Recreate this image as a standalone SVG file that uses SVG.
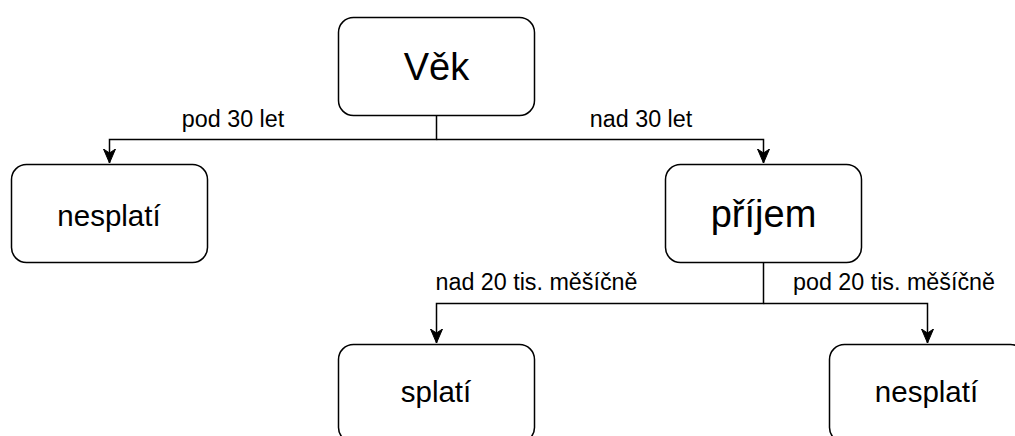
<svg xmlns="http://www.w3.org/2000/svg" width="1015" height="436" viewBox="0 0 1015 436">
  <style>
    .box { fill: #ffffff; stroke: #000000; stroke-width: 1.5; }
    .big { font-family: "Liberation Sans", Arial, sans-serif; font-size: 38px; fill: #000; text-anchor: middle; }
    .mid { font-family: "Liberation Sans", Arial, sans-serif; font-size: 29.5px; fill: #000; text-anchor: middle; }
    .lbl { font-family: "Liberation Sans", Arial, sans-serif; font-size: 23.3px; fill: #000; text-anchor: middle; }
    .edge { fill: none; stroke: #000000; stroke-width: 1.5; }
  </style>
  <defs>
    <marker id="arrow" markerUnits="userSpaceOnUse" markerWidth="14" markerHeight="16" viewBox="0 0 14 16" refX="14" refY="8" orient="auto">
      <path d="M0,2 L14,8 L0,14 L4,8 Z" fill="#000" stroke="#000" stroke-width="1"/>
    </marker>
  </defs>
  <rect width="1015" height="436" fill="#ffffff"/>

  <g id="connectors">
    <path class="edge" d="M436.5,115.5 V139.5 H109.5 V163" marker-end="url(#arrow)"/>
    <path class="edge" d="M436.5,139.5 H763.5 V163" marker-end="url(#arrow)"/>
    <path class="edge" d="M763.5,262.5 V303.5 H436.5 V343" marker-end="url(#arrow)"/>
    <path class="edge" d="M763.5,303.5 H927.5 V343" marker-end="url(#arrow)"/>
    <text class="lbl" x="233" y="126.5">pod 30 let</text>
    <text class="lbl" x="641" y="126.5">nad 30 let</text>
    <text class="lbl" x="536.5" y="290">nad 20 tis. měšíčně</text>
    <text class="lbl" x="894" y="290">pod 20 tis. měšíčně</text>
  </g>

  <g id="node-vek">
    <rect class="box" x="338.5" y="17.5" width="196" height="98" rx="15" ry="15"/>
    <text class="big" x="436.5" y="79.5">Věk</text>
  </g>
  <g id="node-nesplati-1">
    <rect class="box" x="11.5" y="164.5" width="196" height="98" rx="15" ry="15"/>
    <text class="mid" x="109" y="226">nesplatí</text>
  </g>
  <g id="node-prijem">
    <rect class="box" x="665.5" y="164.5" width="196" height="98" rx="15" ry="15"/>
    <text class="big" x="763.5" y="226.5">příjem</text>
  </g>
  <g id="node-splati">
    <rect class="box" x="338.5" y="344.5" width="196" height="98" rx="15" ry="15"/>
    <text class="mid" x="436" y="402">splatí</text>
  </g>
  <g id="node-nesplati-2">
    <rect class="box" x="829.5" y="344.5" width="196" height="98" rx="15" ry="15"/>
    <text class="mid" x="926.5" y="402">nesplatí</text>
  </g>
</svg>
